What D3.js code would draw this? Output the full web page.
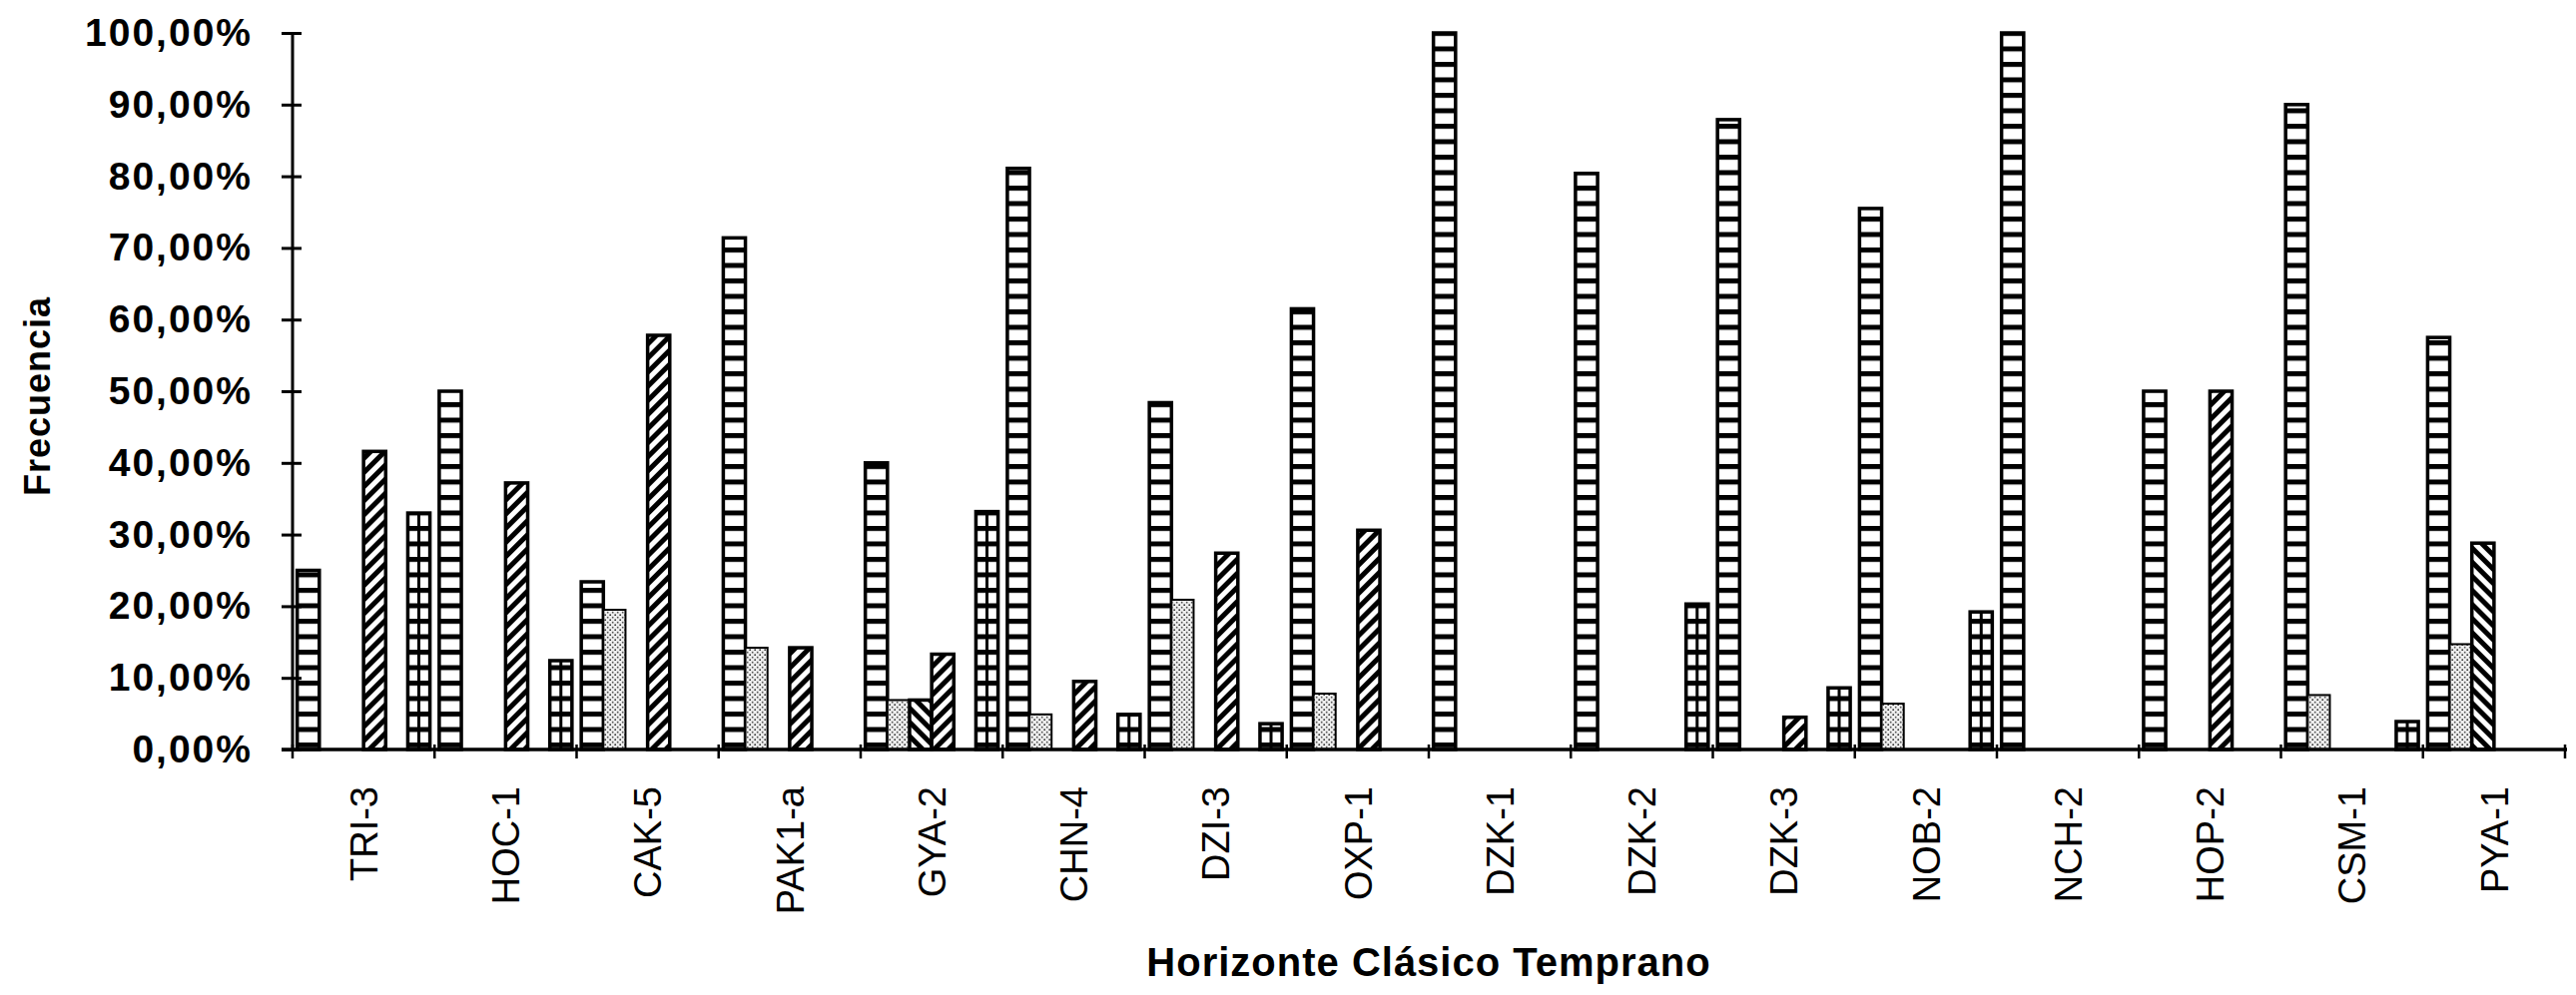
<!DOCTYPE html>
<html>
<head>
<meta charset="utf-8">
<script src="https://cdn.jsdelivr.net/npm/d3@7"></script>
<style>
  html, body { margin: 0; padding: 0; background: #fff; }
  svg { display: block; }
</style>
</head>
<body>
<svg id="chart" width="2580" height="997"></svg>
<script>
// ---- DATA ----
const categories = ["TRI-3","HOC-1","CAK-5","PAK1-a","GYA-2","CHN-4","DZI-3","OXP-1","DZK-1","DZK-2","DZK-3","NOB-2","NCH-2","HOP-2","CSM-1","PYA-1"];
const seriesNames = ["A","B","C","D","E","F"];
const seriesA = [25.0, 50.0, 23.4, 71.4, 40.0, 81.1, 48.4, 61.5, 100.0, 80.4, 87.9, 75.5, 100.0, 50.0, 90.0, 57.5]; // horizontal bars (ladder)
const seriesB = [0, 0, 19.5, 14.2, 6.9, 4.9, 20.9, 7.8, 0, 0, 0, 6.4, 0, 0, 7.6, 14.7];                          // stipple
const seriesC = [0, 0, 0, 0, 6.9, 0, 0, 0, 0, 0, 0, 0, 0, 0, 0, 28.8];                                            // backslash hatch
const seriesD = [41.6, 37.2, 57.8, 14.2, 13.3, 9.5, 27.4, 30.6, 0, 0, 4.5, 0, 0, 50.0, 0, 0];                     // slash hatch
const seriesE = [0, 0, 0, 0, 0, 0, 0, 0, 0, 0, 0, 0, 0, 0, 0, 0];                                                 // empty slot
const seriesF = [33.0, 12.4, 0, 0, 33.2, 4.9, 3.6, 0, 0, 20.3, 8.6, 19.2, 0, 0, 3.9, 0];                          // grid
const yTickValues = [0, 10, 20, 30, 40, 50, 60, 70, 80, 90, 100];
const yTickLabels = ["0,00%","10,00%","20,00%","30,00%","40,00%","50,00%","60,00%","70,00%","80,00%","90,00%","100,00%"];
const xTitle = "Horizonte Clásico Temprano";
const yTitle = "Frecuencia";

const seriesValues = [seriesA, seriesB, seriesC, seriesD, seriesE, seriesF];
const seriesFill = ["url(#ladder)","url(#dots)","url(#back)","url(#diag)","url(#ladder)","url(#ladder)"];

// ---- LAYOUT ----
const svg = d3.select("#chart");
const plotL = 293, plotR = 2569, plotB = 751, plotT = 33;

const x = d3.scaleBand().domain(categories).range([plotL, plotR]).paddingInner(0).paddingOuter(0);
const xs = d3.scaleBand().domain(seriesNames).range([0, x.bandwidth()]).paddingInner(0).paddingOuter(0.21);
const y = d3.scaleLinear().domain([0, 100]).range([plotB, plotT]);

// ---- PATTERNS ----
const defs = svg.append("defs");
const ladder = defs.append("pattern").attr("id","ladder").attr("patternUnits","userSpaceOnUse")
  .attr("width",20).attr("height",15.5);
ladder.append("rect").attr("width",20).attr("height",15.5).attr("fill","#fff");
ladder.append("rect").attr("width",20).attr("height",5).attr("fill","#000");

const dots = defs.append("pattern").attr("id","dots").attr("patternUnits","userSpaceOnUse")
  .attr("width",5).attr("height",5);
dots.append("rect").attr("width",5).attr("height",5).attr("fill","#eee");
dots.append("circle").attr("cx",1.2).attr("cy",1.2).attr("r",0.9).attr("fill","#333");
dots.append("circle").attr("cx",3.7).attr("cy",3.7).attr("r",0.9).attr("fill","#555");

function hatch(id, angle) {
  const p = defs.append("pattern").attr("id",id).attr("patternUnits","userSpaceOnUse")
    .attr("width",10).attr("height",10).attr("patternTransform",`rotate(${angle})`);
  p.append("rect").attr("width",10).attr("height",10).attr("fill","#fff");
  p.append("rect").attr("width",5).attr("height",10).attr("fill","#000");
}
hatch("diag", 45);
hatch("back", -45);

// ---- BARS ----
const barData = [];
categories.forEach((c, i) => {
  seriesNames.forEach((s, j) => {
    const v = seriesValues[j][i];
    if (v > 0) barData.push({c, s, j, v});
  });
});

const bars = svg.append("g");
bars.selectAll("rect").data(barData).join("rect")
  .attr("x", d => x(d.c) + xs(d.s))
  .attr("y", d => y(d.v))
  .attr("width", xs.bandwidth())
  .attr("height", d => y(0) - y(d.v))
  .attr("fill", d => seriesFill[d.j])
  .attr("stroke", "#000")
  .attr("stroke-width", d => d.j === 1 ? 2 : 3.5);

// grid series: vertical divider
bars.selectAll("line.grid").data(barData.filter(d => d.j === 5)).join("line")
  .attr("class","grid")
  .attr("x1", d => x(d.c) + xs(d.s) + xs.bandwidth()/2)
  .attr("x2", d => x(d.c) + xs(d.s) + xs.bandwidth()/2)
  .attr("y1", d => y(d.v))
  .attr("y2", y(0))
  .attr("stroke","#000").attr("stroke-width",3);

// ---- Y AXIS ----
const yAxis = d3.axisLeft(y).tickValues(yTickValues)
  .tickFormat((d, i) => yTickLabels[i]).tickSize(11).tickPadding(29);
const gy = svg.append("g").attr("transform", `translate(${plotL},0)`).call(yAxis);
gy.select(".domain").attr("stroke","#000").attr("stroke-width",3).attr("d", `M0,${plotT}V${plotB}`);
gy.selectAll(".tick line").attr("x1", 9).attr("x2", -11).attr("stroke","#000").attr("stroke-width",3);
gy.selectAll(".tick text")
  .attr("fill","#000")
  .style("font-family","'Liberation Sans', Arial, sans-serif")
  .style("font-weight","bold")
  .style("font-size","39px")
  .style("letter-spacing","2px");

// ---- X AXIS ----
const gx = svg.append("g");
gx.append("line").attr("x1", plotL - 11).attr("x2", plotR + 2).attr("y1", plotB).attr("y2", plotB)
  .attr("stroke","#000").attr("stroke-width",3.5);
const boundaries = categories.map(c => x(c)).concat([x.range()[1]]);
gx.selectAll("line.b").data(boundaries).join("line").attr("class","b")
  .attr("x1", d => d).attr("x2", d => d)
  .attr("y1", plotB - 5).attr("y2", plotB + 9)
  .attr("stroke","#000").attr("stroke-width",2.5);

const xAxis = d3.axisBottom(x).tickSize(0).tickPadding(0);
const gxl = svg.append("g").attr("transform", `translate(0,${plotB})`).call(xAxis);
gxl.select(".domain").remove();
gxl.selectAll(".tick text")
  .attr("fill","#000")
  .attr("text-anchor","end")
  .attr("transform","translate(0,37) rotate(-90)")
  .attr("x", 0).attr("y", 0).attr("dy","0.36em")
  .style("font-family","'Liberation Sans', Arial, sans-serif")
  .style("font-size","38px");

// ---- TITLES ----
svg.append("text")
  .attr("x", (plotL + plotR) / 2).attr("y", 978)
  .attr("text-anchor","middle")
  .style("font-family","'Liberation Sans', Arial, sans-serif")
  .style("font-weight","bold").style("font-size","40px").style("letter-spacing","1px")
  .text(xTitle);

svg.append("text")
  .attr("transform", `translate(50,${(plotT + plotB) / 2 + 5}) rotate(-90)`)
  .attr("text-anchor","middle")
  .style("font-family","'Liberation Sans', Arial, sans-serif")
  .style("font-weight","bold").style("font-size","36px").style("letter-spacing","1px")
  .text(yTitle);
</script>
</body>
</html>
